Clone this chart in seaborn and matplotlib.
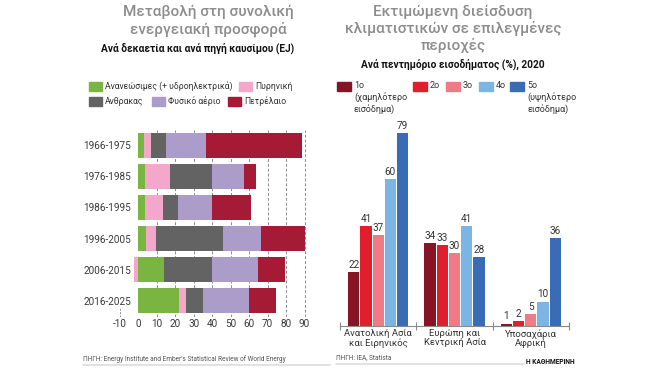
import numpy as np
import pandas as pd
import seaborn as sns
import matplotlib.pyplot as plt
from matplotlib.patches import Rectangle
from matplotlib.lines import Line2D

# left chart: change in total energy supply per decade (EJ)
decades = ["1966-1975", "1976-1985", "1986-1995", "1996-2005", "2006-2015", "2016-2025"]
renewables = [2.9, 3.8, 3.6, 4.3, 13.6, 22.2]
nuclear = [4.1, 13.4, 9.7, 5.0, -2.3, 3.6]
coal = [7.7, 22.6, 8.0, 36.6, 26.0, 9.0]
gas = [21.9, 17.5, 18.3, 20.4, 25.1, 25.1]
oil = [51.9, 6.5, 21.3, 24.0, 14.9, 14.8]

# right chart: air conditioner penetration by income quintile (%), 2020
regions = ["Ανατολική Ασία\nκαι Ειρηνικός", "Ευρώπη και\nΚεντρική Ασία", "Υποσαχάρια\nΑφρική"]
quintiles = ["1ο", "2ο", "3ο", "4ο", "5ο"]
q1 = [22, 34, 1]
q2 = [41, 33, 2]
q3 = [37, 30, 5]
q4 = [60, 41, 10]
q5 = [79, 28, 36]

W, H = 660, 370
sns.set_theme(style="white")
plt.rcParams["font.family"] = ["Roboto", "DejaVu Sans"]
plt.rcParams["axes.unicode_minus"] = False

fig = plt.figure(figsize=(W / 100, H / 100), dpi=100)


def fx(x):
    return x / W


def fy(y):
    return 1 - y / H


def ax_rect(x0, y0, x1, y1):
    return [fx(x0), fy(y1), fx(x1) - fx(x0), (y1 - y0) / H]


# ---------- left chart ----------
c_ren, c_nuc, c_coal, c_gas, c_oil = "#7ab441", "#f3a8cb", "#636363", "#ab9cc9", "#a51b36"
fuel_names = ["Ανανεώσιμες (+ υδροηλεκτρικά)", "Πυρηνική", "Ανθρακας", "Φυσικό αέριο", "Πετρέλαιο"]

ax1 = fig.add_axes(ax_rect(116.3, 129.5, 308.2, 316.5))

ren = np.array(renewables)
nuc = np.array(nuclear)
nuc_pos = np.clip(nuc, 0, None)
nuc_neg = np.clip(nuc, None, 0)
cum_nuc = ren + nuc_pos
cum_coal = cum_nuc + np.array(coal)
cum_gas = cum_coal + np.array(gas)
cum_oil = cum_gas + np.array(oil)

for vals, col in [(cum_oil, c_oil), (cum_gas, c_gas), (cum_coal, c_coal),
                  (cum_nuc, c_nuc), (ren, c_ren), (nuc_neg, c_nuc)]:
    sns.barplot(x=vals, y=decades, orient="h", color=col, saturation=1,
                width=0.8, ax=ax1, linewidth=0)

ax1.set_xlim(-12, 92)
ax1.set_ylim(5.5, -0.5)
ax1.set_xticks(range(-10, 91, 10))
for v in range(10, 91, 10):
    ax1.axvline(v, color="#8c8c8c", lw=0.7, ls=(0, (3, 2)), zorder=0)
ax1.axvline(-10, ymin=0, ymax=0.05, color="#8c8c8c", lw=0.7, ls=(0, (2, 1.5)), zorder=0)
for s in ax1.spines.values():
    s.set_visible(False)
ax1.set_xlabel("")
ax1.set_ylabel("")
ax1.tick_params(axis="x", length=0, labelsize=7.2, colors="#3a3a3a", pad=2)
# year labels sit right next to the zero line, inside the axes
ax1.tick_params(axis="y", length=0, labelsize=7.2, colors="#3a3a3a", pad=-10.5)

fig.text(fx(208), fy(21), "Μεταβολή στη συνολική\nενεργειακή προσφορά", ha="center", va="center",
         fontsize=11, fontweight="medium", color="#8d8d8d", linespacing=1.15)
fig.text(fx(198), fy(48), "Ανά δεκαετία και ανά πηγή καυσίμου (EJ)", ha="center", va="center",
         fontsize=7.3, fontweight="bold", color="#111111")

# hand-placed legend (irregular layout)
leg_left = [(89, 86.5, c_ren, fuel_names[0]), (239, 86.5, c_nuc, fuel_names[1]),
            (89, 101.5, c_coal, fuel_names[2]), (152, 101.5, c_gas, fuel_names[3]),
            (228, 101.5, c_oil, fuel_names[4])]
for x, y, col, name in leg_left:
    fig.add_artist(Rectangle((fx(x), fy(y + 4.5)), 13 / W, 9 / H, color=col, transform=fig.transFigure))
    fig.text(fx(x + 16), fy(y), name, ha="left", va="center", fontsize=6.2, color="#333333")

fig.text(fx(83), fy(359.5), "ΠΗΓΗ: Energy Institute and Ember's Statistical Review of World Energy",
         ha="left", va="center", fontsize=4.7, color="#555555")
fig.add_artist(Line2D([fx(83), fx(330)], [fy(365), fy(365)], color="#dddddd", lw=1.2,
                      transform=fig.transFigure))

# ---------- right chart ----------
q_colors = ["#861425", "#e11f2c", "#f07b86", "#7cb5e4", "#3a6cb6"]
df = pd.DataFrame({
    "region": regions * 5,
    "quintile": [q for q in quintiles for _ in regions],
    "value": q1 + q2 + q3 + q4 + q5,
})

ax2 = fig.add_axes(ax_rect(340, 118, 569, 326))
sns.barplot(data=df, x="region", y="value", hue="quintile", palette=q_colors,
            saturation=1, width=0.8, gap=0.08, ax=ax2, legend=False, linewidth=0)
for cont in ax2.containers:
    ax2.bar_label(cont, fmt="%d", padding=1.5, fontsize=7.2, color="#333333")

ax2.set_xlim(-0.5, 2.5)
ax2.set_ylim(0, 85)
ax2.set_yticks([])
for s in ["top", "right", "left"]:
    ax2.spines[s].set_visible(False)
ax2.spines["bottom"].set_color("#888888")
ax2.spines["bottom"].set_linewidth(0.8)
ax2.set_xticks([-0.5, 0.5, 1.5, 2.5], minor=True)
ax2.tick_params(axis="x", which="minor", length=6, direction="inout", width=0.8, color="#888888",
                bottom=True)
ax2.tick_params(axis="x", which="major", length=0, labelsize=6.8, colors="#333333", pad=2)
for lbl in ax2.get_xticklabels():
    lbl.set_linespacing(1.05)
ax2.set_xlabel("")
ax2.set_ylabel("")

fig.text(fx(453), fy(29), "Εκτιμώμενη διείσδυση\nκλιματιστικών σε επιλεγμένες\nπεριοχές",
         ha="center", va="center", fontsize=11, fontweight="medium", color="#8d8d8d", linespacing=1.15)
fig.text(fx(453), fy(64), "Ανά πεντημόριο εισοδήματος (%), 2020", ha="center", va="center",
         fontsize=7.3, fontweight="bold", color="#111111")

leg_right = [(337, "1ο\n(χαμηλότερο\nεισόδημα)"), (413, "2ο"), (446, "3ο"), (479, "4ο"),
             (510, "5ο\n(υψηλότερο\nεισόδημα)")]
for (x, name), col in zip(leg_right, q_colors):
    fig.add_artist(Rectangle((fx(x), fy(90.5)), 14 / W, 9 / H, color=col, transform=fig.transFigure))
    fig.text(fx(x + 17), fy(81.5), name, ha="left", va="top", fontsize=6.5, color="#333333",
             linespacing=1.2)

fig.text(fx(336), fy(357.5), "ΠΗΓΗ: IEA, Statista", ha="left", va="center", fontsize=4.7, color="#555555")
fig.add_artist(Line2D([fx(336), fx(524)], [fy(364), fy(364)], color="#dddddd", lw=1.2,
                      transform=fig.transFigure))
fig.text(fx(526), fy(362), "Η ΚΑΘΗΜΕΡΙΝΗ", ha="left", va="center", fontsize=4.8,
         fontweight="bold", color="#111111")

fig.savefig("out.png", dpi=100)
